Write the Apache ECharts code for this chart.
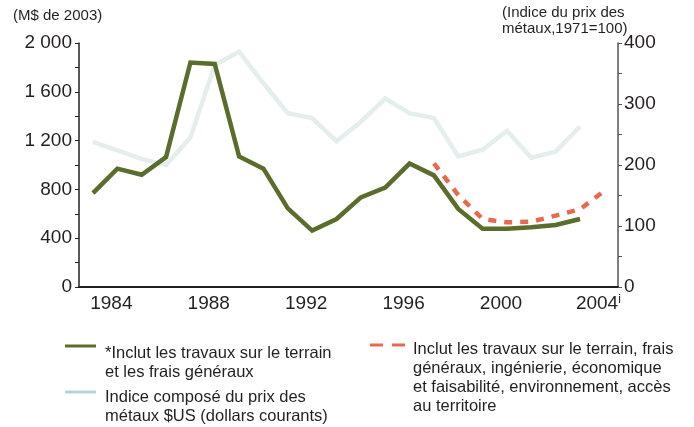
<!DOCTYPE html>
<html><head><meta charset="utf-8">
<script src="https://cdn.jsdelivr.net/npm/echarts@6/dist/echarts.min.js"></script>
<style>html,body{margin:0;padding:0;background:#fff}#c{width:694px;height:427px}</style>
</head><body><div id="c"></div>
<script>
// ---- data ----
const yearsMain = [1983,1984,1985,1986,1987,1988,1989,1990,1991,1992,1993,1994,1995,1996,1997,1998,1999,2000,2001,2002,2003];
const expenditure = [770,970,920,1065,1840,1828,1070,970,645,462,557,735,815,1012,915,640,478,478,489,508,557];
const metalIndex = [238,224,210,200,245,364,386,334,285,277,239,271,309,285,277,214,225,256,212,222,263];
const yearsBroad = [1997,1998,1999,2000,2001,2002,2003,2004];
const broadExpenditure = [1014,754,557,530,535,585,637,789];
const xTickYears = [1984,1988,1992,1996,2000,2004];
const nameMain = '*Inclut les travaux sur le terrain\net les frais généraux';
const nameIndex = 'Indice composé du prix des\nmétaux $US (dollars courants)';
const nameBroad = 'Inclut les travaux sur le terrain, frais\ngénéraux, ingénierie, économique\net faisabilité, environnement, accès\nau territoire';

function hasFont(name){
  const c=document.createElement('canvas').getContext('2d');
  const s='mmmmmmmmmmlli AbcdWéà';
  c.font='20px monospace'; const a=c.measureText(s).width;
  c.font="20px '"+name+"', monospace"; const b=c.measureText(s).width;
  return a!==b;
}
const narrow = hasFont('Liberation Sans Narrow');
const legFont = narrow ? {fontFamily:"'Liberation Sans Narrow'", fontSize:20} : {fontFamily:"'Liberation Sans', Arial", fontSize:16.5};
const TXT = '#231f20';
const BASE = "'Liberation Sans', Arial, sans-serif";

const zip = (xs, ys) => xs.map((x,i)=>[x, ys[i]]);
const fmtThousands = v => String(v).replace(/\B(?=(\d{3})+$)/g, ' ');

function legendBox(name, left, top, lead, padLeft, iconW, icon){
  return {
    data:[name], left:left, top:top, padding:0, orient:'vertical',
    icon: icon || 'rect', itemWidth: iconW, itemHeight:3, selectedMode:false,
    formatter: n => '{g| }\n' + n,
    textStyle:Object.assign({color:TXT, lineHeight:19, padding:[0,0,0,padLeft],
      rich:{g:{fontSize:1, lineHeight:lead}}}, legFont)
  };
}

const chart = echarts.init(document.getElementById('c'), null, {renderer:'canvas'});
chart.setOption({
  backgroundColor:'#fff',
  animation:false,
  textStyle:{fontFamily:BASE},
  title:[
    {text:'(M$ de 2003)', left:13, top:8, padding:0, textStyle:{fontSize:15, fontWeight:'normal', color:TXT, lineHeight:16, fontFamily:BASE}},
    {text:'(Indice du prix des\nmétaux,1971=100)', left:502, top:5, padding:0, textStyle:{fontSize:15, fontWeight:'normal', color:TXT, lineHeight:16, fontFamily:BASE}}
  ],
  grid:{left:79, right:76, top:43, bottom:140, containLabel:false},
  xAxis:{
    type:'value', min:1982.425, max:2004.56,
    axisLine:{show:true, onZero:false, lineStyle:{color:TXT, width:2}},
    axisTick:{show:false}, splitLine:{show:false},
    axisLabel:{
      customValues:xTickYears, margin:7, fontSize:19, color:TXT, fontFamily:BASE,
      padding:[0,12,0,0],
      formatter: v => v===2004 ? '2004{s|i}' : String(v),
      rich:{s:{fontSize:12, color:TXT, verticalAlign:'top', fontFamily:BASE}}
    }
  },
  yAxis:[
    {type:'value', min:0, max:2000, interval:400, position:'left',
     axisLine:{show:true, lineStyle:{color:TXT, width:1.5}},
     axisTick:{show:true, length:4, lineStyle:{color:TXT}},
     minorTick:{show:true, splitNumber:2, length:4, lineStyle:{color:TXT}},
     splitLine:{show:false},
     axisLabel:{margin:7, fontSize:19, color:TXT, fontFamily:BASE, formatter:fmtThousands}},
    {type:'value', min:0, max:400, interval:100, position:'right',
     axisLine:{show:true, lineStyle:{color:'#555', width:1.5}},
     axisTick:{show:true, length:4, lineStyle:{color:'#555'}},
     minorTick:{show:true, splitNumber:2, length:4, lineStyle:{color:'#555'}},
     splitLine:{show:false},
     axisLabel:{margin:6, fontSize:19, color:TXT, fontFamily:BASE}}
  ],
  legend:[
    legendBox(nameMain, 65, 310.5, 33, 4, 31),
    legendBox(nameIndex, 65, 358.5, 29, 4, 31),
    legendBox(nameBroad, 370, 274.5, 65, 3, 35, 'path://M0,0H13V3H0Z M22,0H35V3H22Z')
  ],
  series:[
    {name:nameIndex, type:'line', yAxisIndex:1, data:zip(yearsMain, metalIndex), showSymbol:false, symbol:'none',
     color:'#b3d7d8', lineStyle:{color:'#e3eeed', width:4.5, join:'miter'}, z:1},
    {name:nameMain, type:'line', yAxisIndex:0, data:zip(yearsMain, expenditure), showSymbol:false, symbol:'none',
     color:'#5b6d2c', lineStyle:{color:'#5b6d2c', width:4.5, join:'miter'}, z:3},
    {name:nameBroad, type:'line', yAxisIndex:0, data:zip(yearsBroad, broadExpenditure), showSymbol:false, symbol:'none',
     color:'#e9694f', lineStyle:{color:'#e9694f', width:4.5, type:[8,8]}, z:2}
  ]
});
</script></body></html>
